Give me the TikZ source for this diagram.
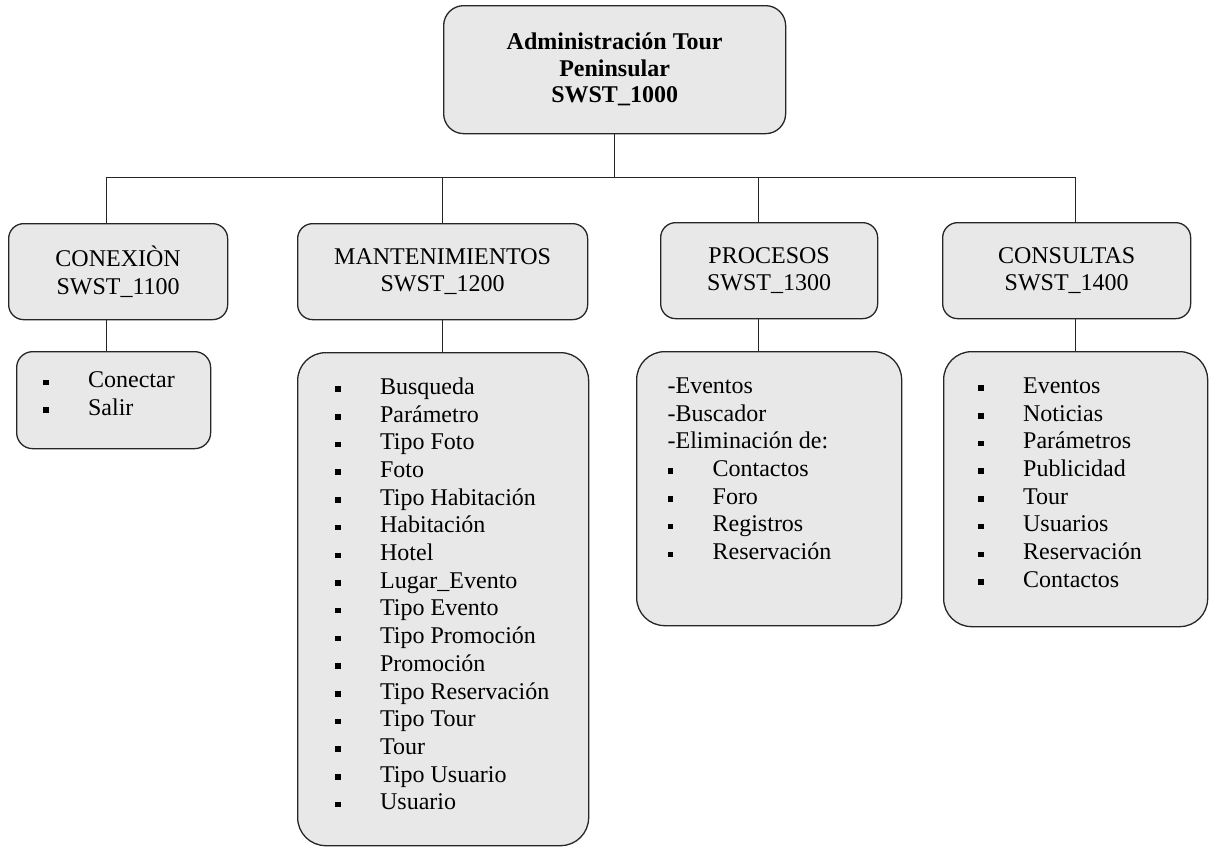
\documentclass[tikz,border=0pt]{standalone}
\usepackage{fontspec}
\setmainfont{Liberation Serif}
\usetikzlibrary{positioning}

\newcommand\sq{\makebox[45pt][l]{\rule[2.5pt]{5.5pt}{5.5pt}}}
\newcommand\lst[4]{\parbox[c][#3][t]{#2}{\raggedright\leftskip=#1\relax #4}}

\begin{document}
\begin{tikzpicture}[
  x=1pt, y=-1pt,
  font=\fontsize{24}{27.7}\selectfont,
  head/.style={draw=black!85, line width=1.3pt, fill=black!9, rounded corners=20pt,
    align=center, anchor=north west, minimum width=342, minimum height=128,
    font=\fontsize{24}{26.5}\selectfont\bfseries},
  unit/.style={draw=black!85, line width=1.3pt, fill=black!9, rounded corners=15pt,
    align=center, anchor=north west, minimum height=96},
  items/.style={draw=black!85, line width=1.3pt, fill=black!9, rounded corners=28pt,
    anchor=north west, inner xsep=0pt, inner ysep=26pt},
  link/.style={draw=black!85, line width=1.2pt}
]
\useasboundingbox (0,0) rectangle (1210,846);
\node[head] (top) at (443,5) {Administración Tour\\Peninsular\\SWST\_1000};
\node[unit, minimum width=219] (con) at (8,223) {CONEXIÒN\\SWST\_1100};
\node[unit, minimum width=290] (man) at (297,223) {MANTENIMIENTOS\\SWST\_1200};
\node[unit, minimum width=217] (pro) at (660,222) {PROCESOS\\SWST\_1300};
\node[unit, minimum width=248] (cns) at (942,222) {CONSULTAS\\SWST\_1400};
\node[items, rounded corners=16pt, inner ysep=20pt] (conl) at (16,351)
  {\lst{26.5pt}{194pt}{57pt}{\sq Conectar\\\sq Salir}};
\node[items, inner ysep=25pt] (manl) at (297,352)
  {\lst{37.5pt}{291pt}{443pt}{\sq Busqueda\\\sq Parámetro\\\sq Tipo Foto\\\sq Foto\\
  \sq Tipo Habitación\\\sq Habitación\\\sq Hotel\\\sq Lugar\_Evento\\\sq Tipo Evento\\
  \sq Tipo Promoción\\\sq Promoción\\\sq Tipo Reservación\\\sq Tipo Tour\\\sq Tour\\
  \sq Tipo Usuario\\\sq Usuario}};
\node[items] (prol) at (636,351)
  {\lst{31pt}{265pt}{222pt}{-Eventos\\-Buscador\\-Eliminación de:\\\sq Contactos\\\sq Foro\\
  \sq Registros\\\sq Reservación}};
\node[items] (cnsl) at (943,351)
  {\lst{34.5pt}{264pt}{223pt}{\sq Eventos\\\sq Noticias\\\sq Parámetros\\\sq Publicidad\\\sq Tour\\
  \sq Usuarios\\\sq Reservación\\\sq Contactos}};
\coordinate (bus) at ([yshift=-43]top.south);
\draw[link] (top.south) -- (bus);
\draw[link] ([xshift=-12]con.north) |- (bus);
\draw[link] (man.north) |- (bus);
\draw[link] ([xshift=-11]pro.north) |- (bus);
\draw[link] ([xshift=9]cns.north) |- (bus);
\draw[link] ([xshift=-12]con.south) -- ([xshift=-12]con.south |- conl.north);
\draw[link] (man.south) -- (man.south |- manl.north);
\draw[link] ([xshift=-11]pro.south) -- ([xshift=-11]pro.south |- prol.north);
\draw[link] ([xshift=9]cns.south) -- ([xshift=9]cns.south |- cnsl.north);
\end{tikzpicture}
\end{document}
